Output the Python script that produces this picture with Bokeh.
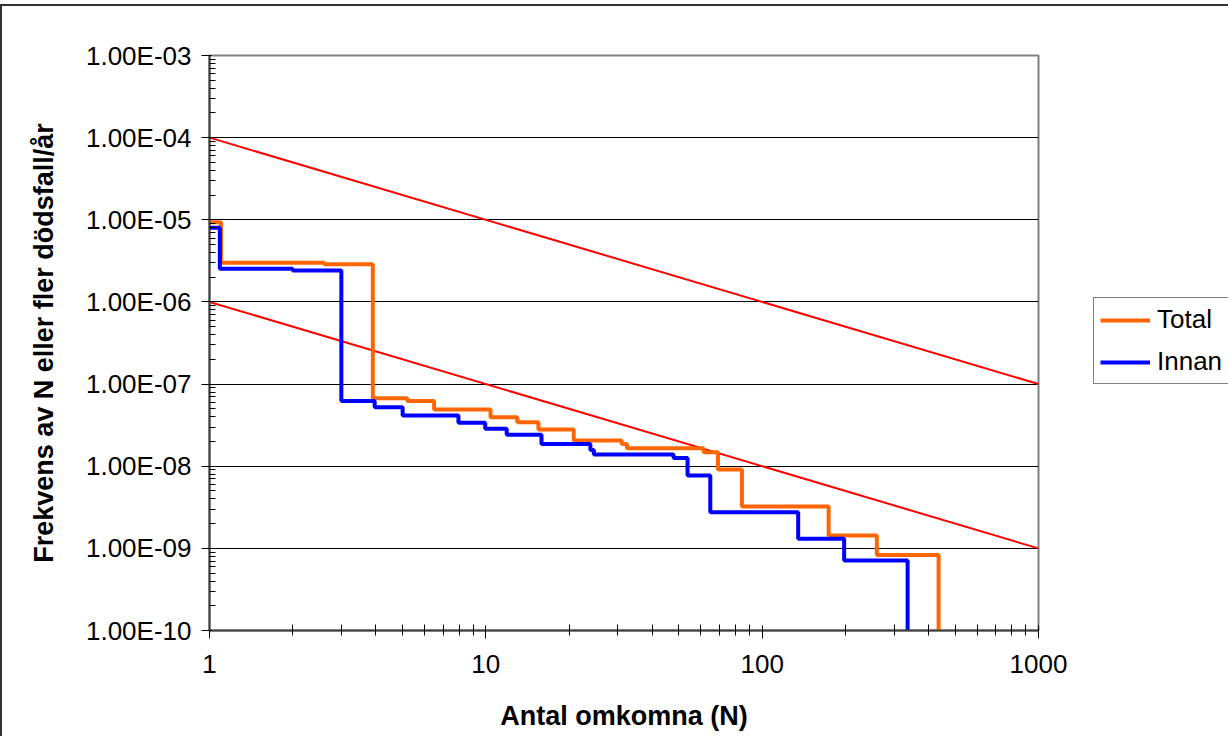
from bokeh.plotting import figure
from bokeh.models import FixedTicker, CustomJSTickFormatter, Legend, LegendItem
from bokeh.embed import file_html
from bokeh.resources import INLINE

# ---- data ----
total_n = [1, 1.1, 2.6, 3.9, 5.2, 6.5, 10.4, 13.0, 15.5, 20.8, 31.0, 32.4, 61.4, 69.2, 84.5, 174, 260, 435]
total_f = [9.35e-6, 3.0e-6, 2.88e-6, 6.7e-8, 6.2e-8, 4.9e-8, 3.95e-8, 3.44e-8, 2.8e-8, 2.06e-8,
           1.87e-8, 1.66e-8, 1.48e-8, 9.1e-9, 3.23e-9, 1.43e-9, 8.33e-10, 1e-10]

innan_n = [1, 1.09, 2.0, 3.0, 3.96, 5.0, 7.96, 9.95, 11.9, 15.9, 23.9, 24.6, 47.8, 53.7, 64.9, 135, 198, 336]
innan_f = [8.0e-6, 2.53e-6, 2.41e-6, 6.2e-8, 5.24e-8, 4.14e-8, 3.37e-8, 2.85e-8, 2.41e-8, 1.87e-8,
           1.58e-8, 1.39e-8, 1.26e-8, 7.7e-9, 2.75e-9, 1.31e-9, 7.1e-10, 1e-10]

crit_n = [1, 1000]
upper_f = [1e-4, 1e-7]
lower_f = [1e-6, 1e-9]

x_ticks = [1, 10, 100, 1000]
y_ticks = [1e-10, 1e-9, 1e-8, 1e-7, 1e-6, 1e-5, 1e-4, 1e-3]

series_labels = ["Total", "Innan"]
x_title = "Antal omkomna (N)"
y_title = "Frekvens av N eller fler dödsfall/år"

FONT = "Liberation Sans"

x_minor = [m * d for d in x_ticks[:-1] for m in range(2, 10)]
y_minor = [m * d for d in y_ticks[:-1] for m in range(2, 10)]

p = figure(frame_width=829, frame_height=575, x_axis_type="log", y_axis_type="log",
           x_range=(x_ticks[0], x_ticks[-1]), y_range=(y_ticks[0], y_ticks[-1]),
           output_backend="svg", toolbar_location=None,
           min_border_left=207, min_border_right=170, min_border_top=49, min_border_bottom=106,
           background_fill_color="white", border_fill_color="white",
           styles={"border-left": "2px solid #333333", "border-top": "2px solid #333333",
                   "margin-top": "4px"})

p.outline_line_color = "#808080"
p.outline_line_width = 2

# grid
p.xgrid.visible = False
p.ygrid.ticker = FixedTicker(ticks=y_ticks[1:-1])
p.ygrid.grid_line_color = "black"
p.ygrid.grid_line_width = 1

# x axis
p.xaxis.ticker = FixedTicker(ticks=x_ticks, minor_ticks=x_minor)
p.xaxis.formatter = CustomJSTickFormatter(code="return String(Math.round(tick));")
p.xaxis.axis_line_color = "#404040"
p.xaxis.axis_line_width = 2
p.xaxis.major_tick_line_color = "black"
p.xaxis.minor_tick_line_color = "black"
p.xaxis.major_tick_in = 5
p.xaxis.major_tick_out = 8
p.xaxis.minor_tick_in = 6
p.xaxis.minor_tick_out = 5
p.xaxis.major_label_standoff = 16
p.xaxis.major_label_text_font = FONT
p.xaxis.major_label_text_font_size = "26px"
p.xaxis.major_label_text_color = "black"
p.xaxis.axis_label = x_title
p.xaxis.axis_label_text_font = FONT
p.xaxis.axis_label_text_font_size = "27px"
p.xaxis.axis_label_text_font_style = "bold"
p.xaxis.axis_label_text_color = "black"
p.xaxis.axis_label_standoff = 25

# y axis
p.yaxis.ticker = FixedTicker(ticks=y_ticks, minor_ticks=y_minor)
p.yaxis.formatter = CustomJSTickFormatter(code="""
const e = Math.round(Math.log10(tick));
const m = tick / Math.pow(10, e);
const a = Math.abs(e);
const s = a < 10 ? "0" + a : "" + a;
return m.toFixed(2) + "E" + (e < 0 ? "-" : "+") + s;
""")
p.yaxis.axis_line_color = "#404040"
p.yaxis.axis_line_width = 2
p.yaxis.major_tick_line_color = "black"
p.yaxis.minor_tick_line_color = "black"
p.yaxis.major_tick_in = 2
p.yaxis.major_tick_out = 8
p.yaxis.minor_tick_in = 6
p.yaxis.minor_tick_out = 0
p.yaxis.major_label_standoff = 10
p.yaxis.major_label_text_font = FONT
p.yaxis.major_label_text_font_size = "26px"
p.yaxis.major_label_text_color = "black"
p.yaxis.axis_label = y_title
p.yaxis.axis_label_text_font = FONT
p.yaxis.axis_label_text_font_size = "27px"
p.yaxis.axis_label_text_font_style = "bold"
p.yaxis.axis_label_text_color = "black"
p.yaxis.axis_label_standoff = 24

# criterion lines
p.line(crit_n, upper_f, line_color="#FF0000", line_width=2)
p.line(crit_n, lower_f, line_color="#FF0000", line_width=2)

# step series
r_total = p.step(total_n, total_f, mode="after", line_color="#FF6600", line_width=4)
r_innan = p.step(innan_n, innan_f, mode="after", line_color="#0000FF", line_width=4)

legend = Legend(items=[LegendItem(label=series_labels[0], renderers=[r_total]),
                       LegendItem(label=series_labels[1], renderers=[r_innan])],
                location=(55, 246), orientation="vertical",
                label_text_font=FONT, label_text_font_size="26px", label_text_color="black",
                glyph_width=50, glyph_height=22, label_height=22, spacing=11,
                padding=6, margin=0, label_standoff=7,
                border_line_color="black", border_line_width=1,
                background_fill_color="white", background_fill_alpha=1.0)
p.add_layout(legend, "right")

open("out.html", "w").write(file_html(p, INLINE))
